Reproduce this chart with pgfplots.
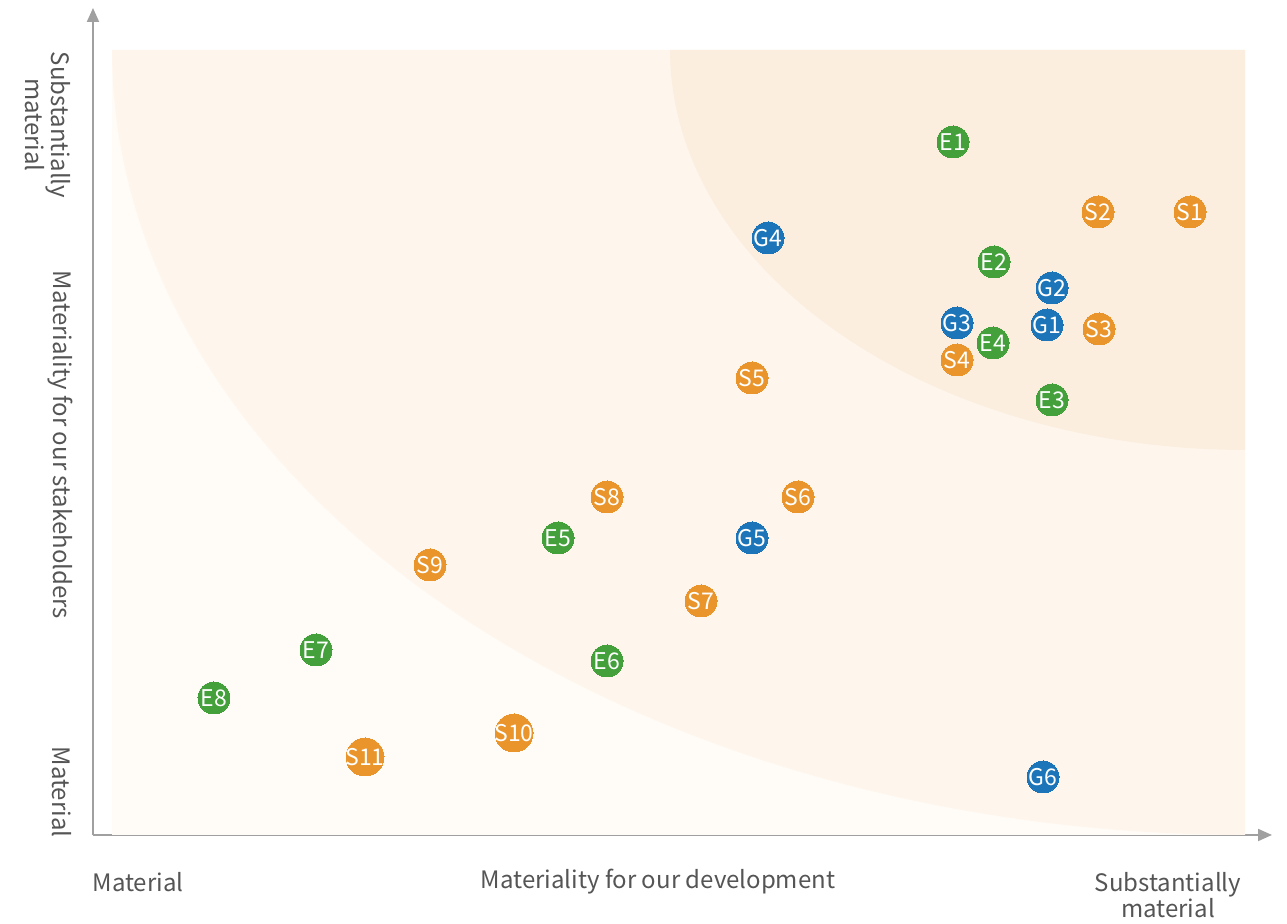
\documentclass[border=0pt]{standalone}
\usepackage{fontspec}
\setmainfont{Noto Sans CJK SC}
\usepackage{pgfplots}
\pgfplotsset{compat=1.18}
\usetikzlibrary{arrows.meta}
\definecolor{cgreen}{HTML}{43A03A}
\definecolor{cblue}{HTML}{1B75B8}
\definecolor{corange}{HTML}{E9952B}
\definecolor{bglight}{HTML}{FFFCF8}
\definecolor{bgmid}{HTML}{FEF6EC}
\definecolor{bgdark}{HTML}{FCEEDF}
\definecolor{axisgray}{HTML}{A0A0A0}
\definecolor{labelgray}{HTML}{555555}
\pgfplotstableread{
x y label
860 693 E1
901 573 E2
959 435 E3
900 492 E4
465 297 E5
514 174 E6
223 185 E7
121 137 E8
}\tblE
\pgfplotstableread{
x y label
1097 623 S1
1005 623 S2
1006 506 S3
864 475 S4
659 457 S5
705 338 S6
608 234 S7
514 338 S8
337 270 S9
}\tblS
\pgfplotstableread{
x y label
421 102 S10
272 78 S11
}\tblSbig
\pgfplotstableread{
x y label
954 510 G1
959 547 G2
864 512 G3
675 597 G4
659 297 G5
950 58 G6
}\tblG
\begin{document}
\begin{tikzpicture}
\begin{axis}[
  x=0.5pt, y=0.5pt,
  xmin=0, xmax=1179, ymin=0, ymax=827,
  axis lines=left,
  axis line style={draw=axisgray, line width=1pt, -{Triangle[length=7pt,width=6pt]}},
  ticks=none,
  clip=false,
  pts/.style={only marks, mark=*, mark size=8pt, color=#1, mark options={draw=#1, fill=#1, line width=0pt},
    nodes near coords, point meta=explicit symbolic,
    nodes near coords style={anchor=center, text=white, inner sep=0pt, font=\fontsize{11.5}{11.5}\selectfont}},
]
\path (axis cs:-93,-89) rectangle (axis cs:1194,835);
\fill[bglight] (axis cs:19,0) rectangle (axis cs:1152,785);
\fill[bgmid] (axis cs:1152,785) -- plot[domain=0:90, samples=90] ({1152-1133*cos(\x)},{785-785*sin(\x)}) -- cycle;
\fill[bgdark] (axis cs:1152,785) -- plot[domain=0:90, samples=90] ({1152-575*cos(\x)},{785-400*sin(\x)}) -- cycle;
\addplot[pts=cgreen] table[meta=label] {\tblE};
\addplot[pts=corange] table[meta=label] {\tblS};
\addplot[pts=corange, mark size=9.5pt] table[meta=label] {\tblSbig};
\addplot[pts=cblue] table[meta=label] {\tblG};
\begin{scope}[every node/.style={text=labelgray, font=\fontsize{12}{13}\selectfont, align=center, inner sep=0pt}]
\node[rotate=-90] at (axis cs:-45,710) {Substantially\\material};
\node[rotate=-90] at (axis cs:-33,390) {Materiality for our stakeholders};
\node[rotate=-90] at (axis cs:-31,43) {Material};
\node at (axis cs:45,-47) {Material};
\node at (axis cs:565,-47) {Materiality for our development};
\node at (axis cs:1075,-60) {Substantially\\material};
\end{scope}
\end{axis}
\end{tikzpicture}
\end{document}
